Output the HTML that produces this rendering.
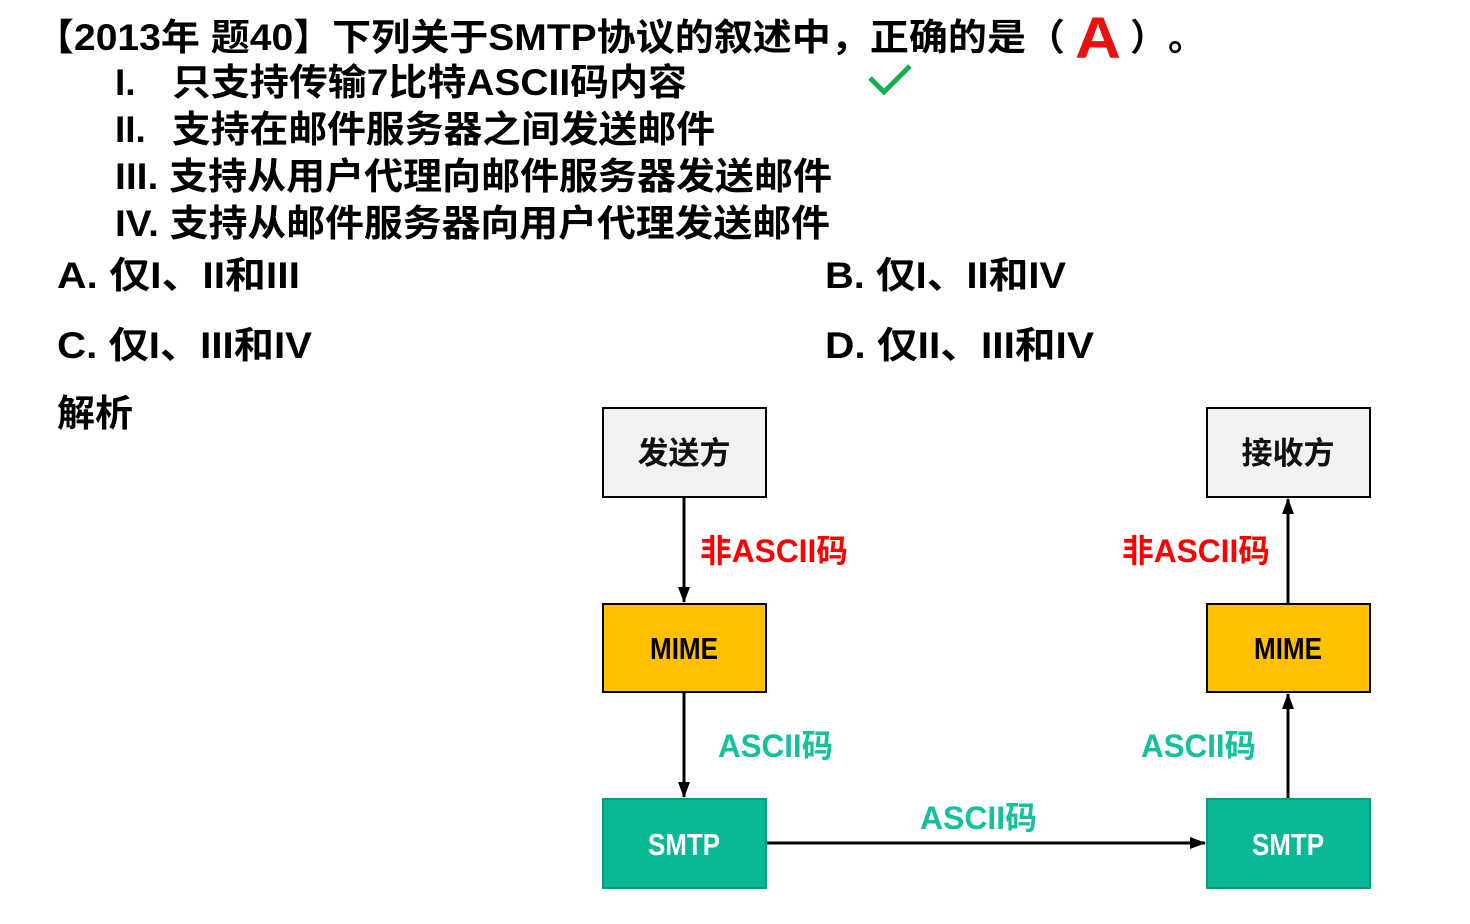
<!DOCTYPE html>
<html><head><meta charset="utf-8"><style>
html,body{margin:0;padding:0;background:#fff;}
svg{display:block;}
text{font-family:"Liberation Sans","Noto Sans CJK SC",sans-serif;font-weight:bold;}
</style></head><body>
<svg width="1470" height="924" viewBox="0 0 1470 924" xmlns="http://www.w3.org/2000/svg">
<defs>
<marker id="ah" markerWidth="16" markerHeight="12" refX="15" refY="6" orient="auto" markerUnits="userSpaceOnUse">
<path d="M0,0 L16,6 L0,12 Z" fill="#000"/>
</marker>
</defs>
<g font-size="37" fill="#000">
<text x="35" y="50" textLength="1030" lengthAdjust="spacingAndGlyphs">【2013年 题40】下列关于SMTP协议的叙述中，正确的是（</text>
<text x="1130" y="50">）</text>
<text x="1168" y="50">。</text>
<text x="115" y="95">I.</text>
<text x="172" y="95" textLength="515" lengthAdjust="spacingAndGlyphs">只支持传输7比特ASCII码内容</text>
<text x="115" y="142">II.</text>
<text x="172" y="142" textLength="543" lengthAdjust="spacingAndGlyphs">支持在邮件服务器之间发送邮件</text>
<text x="115" y="189" textLength="717" lengthAdjust="spacingAndGlyphs">III. 支持从用户代理向邮件服务器发送邮件</text>
<text x="115" y="236" textLength="715" lengthAdjust="spacingAndGlyphs">IV. 支持从邮件服务器向用户代理发送邮件</text>
<text x="57" y="288" textLength="243" lengthAdjust="spacingAndGlyphs">A. 仅I、II和III</text>
<text x="825" y="288" textLength="241" lengthAdjust="spacingAndGlyphs">B. 仅I、II和IV</text>
<text x="57" y="358" textLength="255" lengthAdjust="spacingAndGlyphs">C. 仅I、III和IV</text>
<text x="825" y="358" textLength="269" lengthAdjust="spacingAndGlyphs">D. 仅II、III和IV</text>
<text x="57" y="426" textLength="76" lengthAdjust="spacingAndGlyphs">解析</text>
</g>
<text x="1075" y="58" font-size="58" fill="#e81010" textLength="46" lengthAdjust="spacingAndGlyphs">A</text>
<path d="M870,78 L884,92 L910,66" fill="none" stroke="#14b050" stroke-width="5"/>

<g stroke="#000" stroke-width="2">
<rect x="603" y="408" width="163" height="89" fill="#f2f2f2"/>
<rect x="1207" y="408" width="163" height="89" fill="#f2f2f2"/>
<rect x="603" y="604" width="163" height="88" fill="#ffc000"/>
<rect x="1207" y="604" width="163" height="88" fill="#ffc000"/>
<rect x="603" y="799" width="163" height="89" fill="#0bb896" stroke="#0a9a7e"/>
<rect x="1207" y="799" width="163" height="89" fill="#0bb896" stroke="#0a9a7e"/>
</g>
<g stroke="#000" stroke-width="3" fill="none">
<line x1="684" y1="498" x2="684" y2="602" marker-end="url(#ah)"/>
<line x1="684" y1="693" x2="684" y2="797" marker-end="url(#ah)"/>
<line x1="767" y1="843" x2="1205" y2="843" marker-end="url(#ah)"/>
<line x1="1288" y1="798" x2="1288" y2="694" marker-end="url(#ah)"/>
<line x1="1288" y1="603" x2="1288" y2="499" marker-end="url(#ah)"/>
</g>
<g font-size="31" text-anchor="middle">
<text x="684" y="464" fill="#111">发送方</text>
<text x="1288" y="464" fill="#111">接收方</text>
<text x="684" y="659" fill="#000" textLength="68" lengthAdjust="spacingAndGlyphs">MIME</text>
<text x="1288" y="659" fill="#000" textLength="68" lengthAdjust="spacingAndGlyphs">MIME</text>
<text x="684" y="855" fill="#fff" textLength="72" lengthAdjust="spacingAndGlyphs">SMTP</text>
<text x="1288" y="855" fill="#fff" textLength="72" lengthAdjust="spacingAndGlyphs">SMTP</text>
</g>
<g font-size="32">
<text x="700" y="562" fill="#ff0000" textLength="148" lengthAdjust="spacingAndGlyphs">非ASCII码</text>
<text x="1122" y="562" fill="#ff0000" textLength="148" lengthAdjust="spacingAndGlyphs">非ASCII码</text>
<text x="718" y="757" fill="#15c09c" textLength="115" lengthAdjust="spacingAndGlyphs">ASCII码</text>
<text x="1141" y="757" fill="#15c09c" textLength="115" lengthAdjust="spacingAndGlyphs">ASCII码</text>
<text x="920" y="829" fill="#15c09c" textLength="117" lengthAdjust="spacingAndGlyphs">ASCII码</text>
</g>
</svg>
</body></html>
